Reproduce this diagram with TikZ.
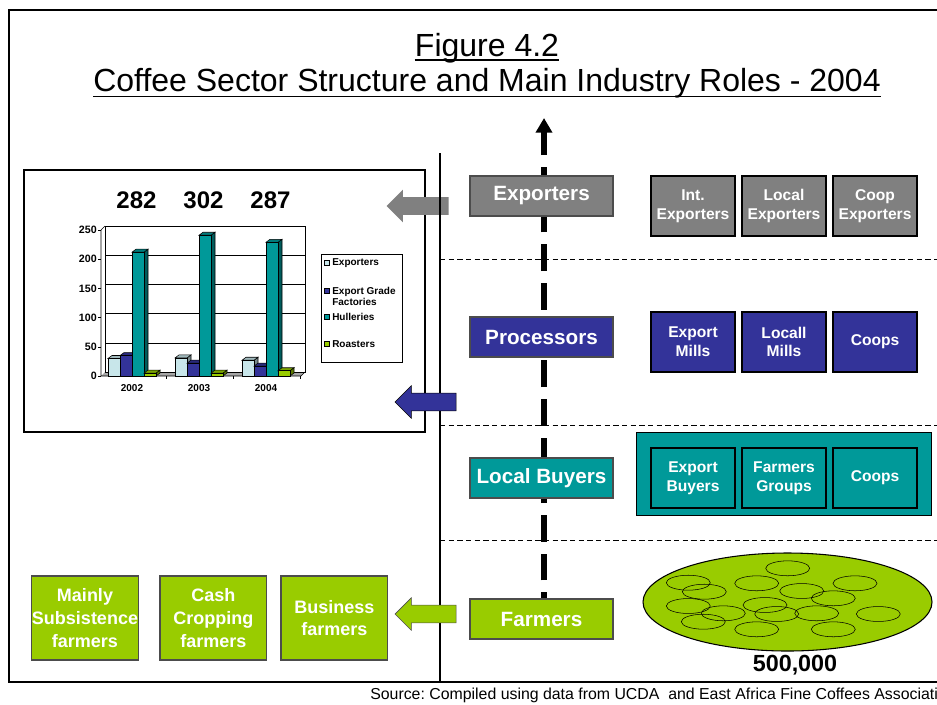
\documentclass[tikz,border=0pt]{standalone}
\usepackage{fontspec}
\setmainfont{Liberation Sans}
\usetikzlibrary{arrows.meta,shapes.geometric,shapes.arrows}

\definecolor{coffeeGray}{RGB}{128,128,128}
\definecolor{coffeeNavy}{RGB}{51,51,153}
\definecolor{coffeeTeal}{RGB}{0,153,153}
\definecolor{coffeeGreen}{RGB}{153,204,0}
\definecolor{coffeePale}{RGB}{200,230,234}

\begin{document}
\begin{tikzpicture}
[x=0.75pt,y=-0.75pt,
  roleMain/.style={draw=black!70,thick,inner sep=0pt,minimum width=107.25pt,minimum height=30pt,text=white,font=\fontsize{15.5}{17}\selectfont\bfseries},%
  roleSub/.style={draw=black,thick,inner sep=0pt,minimum width=63pt,minimum height=45pt,text=white,align=center,font=\fontsize{11.7}{14}\selectfont\bfseries},%
  farmBox/.style={draw=black!70,thick,inner sep=0pt,minimum width=80pt,minimum height=63pt,fill=coffeeGreen,text=white,align=center,font=\fontsize{13.5}{17}\selectfont\bfseries},%
  blockArrow/.style={single arrow,shape border rotate=180,single arrow head extend=5.6pt,single arrow tip angle=90,inner xsep=0pt,inner ysep=6.4pt,minimum width=24pt},%
  sepLine/.style={dash pattern=on 4pt off 2.5pt,line width=0.6pt},%
  chartLabel/.style={inner sep=0pt,font=\fontsize{8}{9}\selectfont\bfseries},%
  legendLabel/.style={inner sep=0pt,align=left,font=\fontsize{7.5}{8.5}\selectfont\bfseries}]
\useasboundingbox (0,0) rectangle (937,704);
\clip (0,0) rectangle (937,704);

%% frame, chart panel and separators
\draw[line width=2.2pt] (937,10) -- (9,10) -- (9,682) -- (937,682);
\draw[line width=1.5pt,fill=white] (24,170) rectangle (425,432);
\node[blockArrow,fill=coffeeGray,minimum height=46.5pt] (exparrow) at (422,206) {};
\draw[line width=1.1pt] (440,153) -- (440,682);
\foreach \y in {259,425,540}
{
  \draw[sepLine] (440,\y) -- (937,\y);
}
\node[blockArrow,fill=coffeeNavy,draw=black,minimum height=45.75pt] (procarrow) at (430,402) {};
\node[blockArrow,fill=coffeeGreen,draw=black!70,minimum height=45.75pt] (farmarrow) at (430,614) {};

%% value chain arrow
\coordinate (chainbottom) at (544,619);
\coordinate (chaintop) at (544,118);
\draw[line width=4.5pt,dash pattern=on 20pt off 9pt,-{Triangle[width=12pt,length=11pt]}] (chainbottom) -- (chaintop);

%% main roles
\node[roleMain,fill=coffeeGray] (exporters) at (541.5,196) {Exporters};
\node[roleMain,fill=coffeeNavy] (processors) at (541.5,337) {Processors};
\node[roleMain,fill=coffeeTeal] (buyers) at (541.5,478) {Local Buyers};
\node[roleMain,fill=coffeeGreen] (farmers) at (541.5,619) {Farmers};

%% sub roles
\node[draw=black,thick,fill=coffeeTeal,inner sep=0pt,minimum width=221.25pt,minimum height=62.25pt] (buyergroup) at (784.2,474.2) {};
\foreach \nodename/\x/\y/\col/\txt in {
  intexp/693/206/coffeeGray/{Int.\\Exporters}, locexp/784/206/coffeeGray/{Local\\Exporters},
  coopexp/875/206/coffeeGray/{Coop\\Exporters},
  expmill/693/342/coffeeNavy/{Export\\Mills}, locmill/784/342/coffeeNavy/{Locall\\Mills},
  coopmill/875/342/coffeeNavy/{Coops},
  expbuy/693/478/coffeeTeal/{Export\\Buyers}, farmgrp/784/478/coffeeTeal/{Farmers\\Groups},
  coopbuy/875/478/coffeeTeal/{Coops}}
{
  \node[roleSub,fill=\col] (\nodename) at (\x,\y) {\txt};
}

%% farmer types
\node[farmBox] (subsist) at (85,618) {Mainly\\Subsistence\\farmers};
\node[farmBox] (cashcrop) at (213.3,618) {Cash\\Cropping\\farmers};
\node[farmBox] (business) at (334.3,618) {Business\\farmers};

%% farmer pool
\node[ellipse,draw=black,thick,fill=coffeeGreen,inner sep=0pt,minimum width=216.75pt,minimum height=73.5pt] (farmerpool) at (787.5,602) {};
\foreach \x/\y in {787.7/568.3, 688.3/582.7, 756.7/583.3, 704.3/591.7, 855/583.3,
  801.7/591, 833.3/598.3, 688.3/606, 723.3/613.3, 765/605, 776.7/614, 816.7/613.3,
  878.3/614, 703.3/621.7, 756.7/629.3, 833.3/629.3}
{
  \draw[thin] (\x,\y) ellipse [x radius=16.5pt,y radius=5.6pt];
}
\node[font=\fontsize{17.5}{20}\selectfont\bfseries] (farmercount) at (795,665) {500,000};

%% chart: walls, grid and axis
\fill[gray!70] (101,376) -- (301,376) -- (305,372) -- (105,372) -- cycle;
\draw[thin] (105,226) rectangle (305,372);
\draw[thin] (101,230) -- (105,226);
\draw[thin] (101,230) -- (101,376) -- (301,376) -- (305,372);
\foreach \v in {0,50,...,250}
{
  \draw[thin] (105,{372-0.584*\v}) -- (305,{372-0.584*\v});
  \draw[thin] (98,{376-0.584*\v}) -- (101,{376-0.584*\v});
  \node[chartLabel,anchor=east] (ytick\v) at (97,{376-0.584*\v}) {\v};
}
\foreach \x in {166,233,300}
{
  \draw[thin] (\x,376) -- (\x,379);
}

%% chart: bars
\foreach \c/\yr/\total/\va/\vb/\vc/\vd in {
  132/2002/282/30/35/212/5, 199/2003/302/31/22/241/5, 266/2004/287/27/17/229/9}
{
  \foreach \v/\col [count=\i from 0] in {\va/coffeePale, \vb/coffeeNavy, \vc/coffeeTeal, \vd/coffeeGreen}
  {
    \pgfmathsetmacro{\xl}{\c-24+12*\i}
    \pgfmathsetmacro{\yt}{376-0.584*\v}
    \filldraw[fill=\col!60!black,draw=black,thin] (\xl+12,376) -- (\xl+16,373) -- (\xl+16,\yt-3) -- (\xl+12,\yt) -- cycle;
    \filldraw[fill=\col!80!black,draw=black,thin] (\xl,\yt) -- (\xl+4,\yt-3) -- (\xl+16,\yt-3) -- (\xl+12,\yt) -- cycle;
    \filldraw[fill=\col,draw=black,thin] (\xl,\yt) rectangle (\xl+12,376);
  }
  \node[chartLabel,font=\fontsize{7.5}{9}\selectfont\bfseries] (year\yr) at (\c,388) {\yr};
  \node[font=\fontsize{18}{20}\selectfont\bfseries] (total\yr) at (\c+4.5,200) {\total};
}

%% chart: legend
\node[draw=black,thin,fill=white,inner sep=0pt,minimum width=60.75pt,minimum height=81pt] (legend) at (361.5,308) {};
\foreach \nodename/\y/\col/\txt in {
  legexp/263/coffeePale/{Exporters}, legfac/296.5/coffeeNavy/{Export Grade\\Factories},
  leghul/317/coffeeTeal/{Hulleries}, legroa/344/coffeeGreen/{Roasters}}
{
  \node[legendLabel,anchor=west] (\nodename) at (332,\y) {\txt};
}
\foreach \y/\col in {263/coffeePale, 291/coffeeNavy, 317/coffeeTeal, 344/coffeeGreen}
{
  \filldraw[fill=\col,draw=black,thin] (324,\y-2.5) rectangle (329,\y+2.5);
}

%% titles
\node[font=\fontsize{24}{28}\selectfont,anchor=base,inner sep=0pt] (figno) at (487,56) {Figure 4.2};
\node[font=\fontsize{24}{28}\selectfont,anchor=base,inner sep=0pt] (figtitle) at (487,91) {Coffee Sector Structure and Main Industry Roles - 2004};
\draw[line width=1.1pt] ([yshift=-3pt]figno.base west) -- ([yshift=-3pt]figno.base east);
\draw[line width=1.1pt] ([yshift=-4pt]figtitle.base west) -- ([yshift=-4pt]figtitle.base east);
\node[font=\fontsize{11.9}{13}\selectfont,anchor=base west,inner sep=0pt] (source) at (370,699) {\frenchspacing Source: Compiled using data from UCDA \ and East Africa Fine Coffees Associati};
\end{tikzpicture}
\end{document}
